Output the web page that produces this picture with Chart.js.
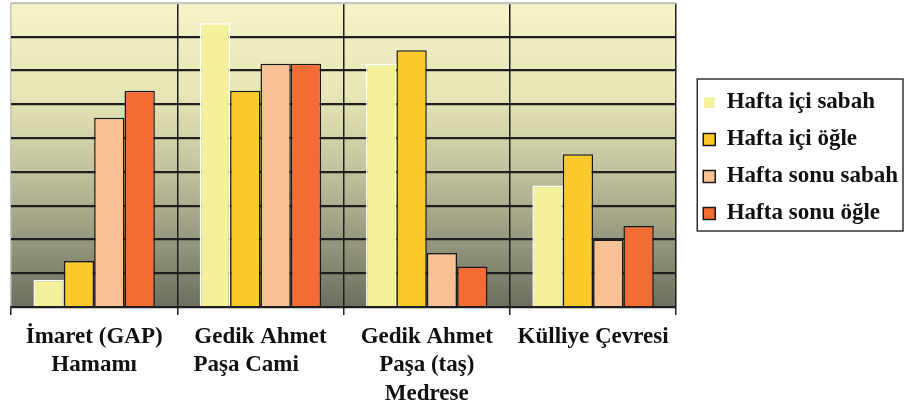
<!DOCTYPE html>
<html>
<head>
<meta charset="utf-8">
<script src="https://cdn.jsdelivr.net/npm/chart.js@4.4.1/dist/chart.umd.min.js"></script>
<style>
  html, body { margin: 0; padding: 0; background: #fff; }
  #wrap { width: 918px; height: 409px; }
</style>
</head>
<body>
<div id="wrap"><canvas id="myChart" width="918" height="409"></canvas></div>
<script>
// categories (x axis)
var places = [
  ["İmaret (GAP)", "Hamamı"],
  ["Gedik Ahmet", "Paşa Cami\u00a0\u00a0\u00a0\u00a0\u00a0"],
  ["Gedik Ahmet", "Paşa (taş)", "Medrese"],
  "Külliye Çevresi"
];
var seriesNames = ["Hafta içi sabah", "Hafta içi öğle", "Hafta sonu sabah", "Hafta sonu öğle"];
// values (9 grid steps, unlabeled axis)
var weekdayMorning = [4, 42, 36, 18];
var weekdayNoon = [6.8, 32, 38, 22.6];
var weekendMorning = [28, 36, 8, 10];
var weekendNoon = [32, 36, 6, 12];
var yMax = 45;
var yStep = 5;

var colors = ["#f3f19c", "#fdc92b", "#f9c194", "#f26c33"];
var borders = ["#ffffff", "#1a1a1a", "#1a1a1a", "#1a1a1a"];
var serif = "'Liberation Serif', 'Times New Roman', serif";

var allValues = [weekdayMorning, weekdayNoon, weekendMorning, weekendNoon];
var datasets = [];
for (let i = 0; i < allValues.length; i++) {
  datasets.push({
    label: seriesNames[i],
    data: allValues[i],
    backgroundColor: colors[i],
    borderColor: borders[i],
    borderWidth: 1.5,
    categoryPercentage: 0.73,
    barPercentage: 1.0
  });
}

const plotBg = {
  id: "plotBg",
  beforeDraw(chart) {
    const c = chart.ctx, a = chart.chartArea;
    c.save();
    c.fillStyle = "#fff";
    c.fillRect(0, 0, chart.width, chart.height);
    const g = c.createLinearGradient(0, a.top, 0, a.bottom);
    g.addColorStop(0, "#f6f4c8");
    g.addColorStop(0.3, "#e6e6b6");
    g.addColorStop(0.55, "#c2c39d");
    g.addColorStop(1, "#6c6f60");
    c.fillStyle = g;
    c.fillRect(a.left, a.top, a.right - a.left, a.bottom - a.top);
    c.restore();
  }
};

const legendFrame = {
  id: "legendFrame",
  afterDraw(chart) {
    const lg = chart.legend;
    if (!lg || !lg.legendHitBoxes.length) return;
    const hb = lg.legendHitBoxes;
    const first = hb[0], last = hb[hb.length - 1];
    let right = 0;
    hb.forEach(h => { right = Math.max(right, h.left + h.width); });
    const c = chart.ctx;
    c.save();
    c.strokeStyle = "#333";
    c.lineWidth = 1.5;
    c.strokeRect(first.left - 6, first.top - 12, right + 5 - (first.left - 6), last.top + last.height + 6 - (first.top - 12));
    c.restore();
  }
};

const ctx = document.getElementById("myChart");
new Chart(ctx, {
  type: "bar",
  data: { labels: places, datasets: datasets },
  plugins: [plotBg, legendFrame],
  options: {
    responsive: false,
    animation: false,
    layout: { padding: { left: 11, top: 3, right: 10, bottom: 0 } },
    plugins: {
      tooltip: { enabled: false },
      legend: {
        position: "right",
        align: "center",
        fullSize: false,
        // empty title only nudges the items a few px down
        title: { display: true, text: "", padding: 0, font: { size: 5, lineHeight: 1.2 } },
        labels: {
          boxWidth: 12,
          boxHeight: 12,
          padding: 14,
          color: "#111",
          font: { family: serif, size: 23, weight: "bold" }
        }
      }
    },
    scales: {
      x: {
        grid: {
          offset: true,
          color: (c) => (c.index === 0 || c.index === places.length) ? "#c4c4c4" : "#1e1e1e",
          lineWidth: 1.5,
          tickLength: 8,
          tickColor: "#222"
        },
        border: { display: true, color: "#1e1e1e", width: 1.5 },
        ticks: {
          color: "#111",
          padding: 8,
          maxRotation: 0,
          font: { family: serif, size: 23, weight: "bold", lineHeight: 1.23 }
        },
        afterFit: function (scale) { scale.height = 102; }
      },
      // value axis kept on the right, unlabeled; its width is the gap before the legend
      y: {
        position: "right",
        min: 0,
        max: yMax,
        ticks: { display: false, stepSize: yStep },
        grid: {
          drawTicks: false,
          color: (c) => c.tick.value === yMax ? "#c4c4c4" : "#1f1f1f",
          lineWidth: 2.2
        },
        border: { display: false },
        afterFit: function (scale) { scale.width = 13; }
      }
    }
  }
});
</script>
</body>
</html>
